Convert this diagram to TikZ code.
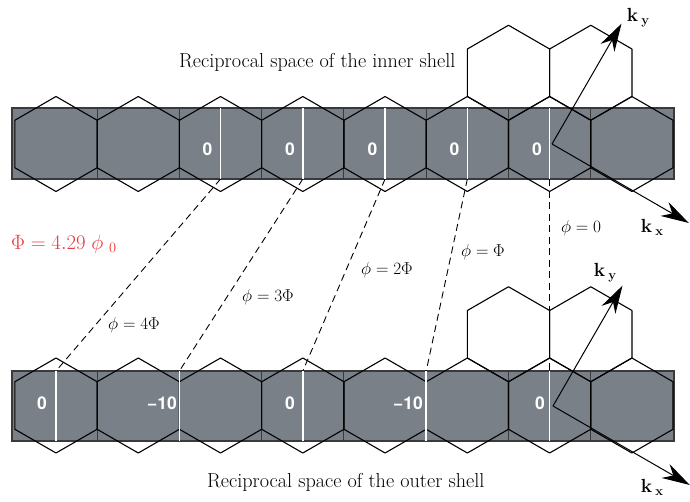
\documentclass[tikz,border=0pt]{standalone}
\usepackage{fontspec}
\newfontfamily\labfont{TeX Gyre Heros}
\usetikzlibrary{arrows.meta}
\definecolor{bandgray}{HTML}{7A8087}
\definecolor{bandedge}{HTML}{3A3A3A}
\definecolor{fluxred}{HTML}{E8383D}
\newcommand\myhex[2]{\draw[hexline] (#1,#2) ++(0,-47.5) -- ++(41.14,23.75) -- ++(0,47.5) -- ++(-41.14,23.75) -- ++(-41.14,-23.75) -- ++(0,-47.5) -- cycle;}
\begin{document}
\begin{tikzpicture}[x=1pt,y=-1pt,
  hexline/.style={draw=black,line width=1.1pt,line join=round},
  cellline/.style={draw=bandedge,line width=1pt},
  bandbox/.style={fill=bandgray,draw=bandedge,line width=1.4pt},
  whiteline/.style={draw=white,line width=1.6pt},
  phaseline/.style={draw=black,dash pattern=on 7pt off 4.5pt,line width=0.9pt},
  kvec/.style={draw=black,line width=1pt,-{Stealth[length=28pt,width=16pt,inset=9pt]}},
  zero/.style={text=white,font=\labfont\bfseries\fontsize{17.5}{19}\selectfont,inner sep=0pt},
  philab/.style={font=\fontsize{17}{19}\selectfont,inner sep=0pt},
  titlelab/.style={font=\fontsize{20.2}{22}\selectfont,inner sep=0pt},
  klab/.style={font=\fontsize{19}{20}\selectfont\bfseries,inner sep=0pt}]
\useasboundingbox (0,0) rectangle (690,501);
\fill[white] (0,0) rectangle (690,501);
% bands
\draw[bandbox] (12,108) rectangle (674,179);
\draw[bandbox] (12,371) rectangle (674,441);
\foreach \i in {1,...,7}{
  \pgfmathsetmacro\bx{14.86+82.27*\i}
  \draw[cellline] (\bx,108) -- (\bx,179);
  \draw[cellline] (\bx,371) -- (\bx,441);
}
% hexagons
\foreach \i in {0,...,7}{
  \pgfmathsetmacro\cx{56+82.27*\i}
  \myhex{\cx}{144}
  \myhex{\cx}{405.5}
}
\myhex{508.5}{72.75}
\myhex{590.8}{72.75}
\myhex{508.5}{334.25}
\myhex{590.8}{334.25}
% white lines, top band
\foreach \x [count=\k] in {220.54,302.81,385.08,467.35,549.62}{
  \coordinate (tt\k) at (\x,108);
  \coordinate (tb\k) at (\x,179);
  \draw[whiteline] (tt\k) -- (tb\k);
}
% white lines, lower band
\foreach \x [count=\k] in {56,179.4,302.81,426.2,549.62}{
  \coordinate (lt\k) at (\x,371);
  \coordinate (lb\k) at (\x,441);
  \draw[whiteline] (lt\k) -- (lb\k);
}
% zero labels
\node[zero] (z1) at (207.5,149) {0};
\node[zero] (z2) at (290,149) {0};
\node[zero] (z3) at (372.5,149) {0};
\node[zero] (z4) at (454.5,149) {0};
\node[zero] (z5) at (537,149) {0};
\node[zero] (w1) at (42,403) {0};
\node[zero] (w2) at (162,403) {−10};
\node[zero] (w3) at (290,403) {0};
\node[zero] (w4) at (408,403) {−10};
\node[zero] (w5) at (540,403) {0};
% phase lines
\draw[phaseline] (tb1) -- (lt1);
\draw[phaseline] (tb2) -- (lt2);
\draw[phaseline] (tb3) -- (lt3);
\draw[phaseline] (tb4) -- (lt4);
\draw[phaseline] (tb5) -- (lt5);
\node[philab] (p4) at (134,325) {$\phi = 4\Phi$};
\node[philab] (p3) at (268,297) {$\phi = 3\Phi$};
\node[philab] (p2) at (387,270) {$\phi = 2\Phi$};
\node[philab] (p1) at (483,252) {$\phi = \Phi$};
\node[philab] (p0) at (581,228) {$\phi = 0$};
\node[philab,text=fluxred,anchor=base west,font=\fontsize{19.5}{21}\selectfont] (flux) at (11,249) {$\Phi = 4.29\;\phi\;{}_{0}$};
% titles
\node[titlelab,anchor=base west] (tin) at (179,67) {Reciprocal space of the inner shell};
\node[titlelab,anchor=base west] (tout) at (207,487) {Reciprocal space of the outer shell};
% k vectors
\coordinate (o1) at (552,144);
\coordinate (ky1) at (621.5,23.6);
\coordinate (kx1) at (688.8,223);
\coordinate (o2) at (553,406);
\coordinate (ky2) at (622.5,285.6);
\coordinate (kx2) at (689.8,485);
\draw[kvec] (o1) -- (ky1);
\draw[kvec] (o1) -- (kx1);
\draw[kvec] (o2) -- (ky2);
\draw[kvec] (o2) -- (kx2);
\node[klab] (lky1) at (638,18) {k\,\raisebox{-3pt}{\fontsize{13}{13}\selectfont y}};
\node[klab] (lkx1) at (652,227) {k\,\raisebox{-3pt}{\fontsize{13}{13}\selectfont x}};
\node[klab] (lky2) at (605,273) {k\,\raisebox{-3pt}{\fontsize{13}{13}\selectfont y}};
\node[klab] (lkx2) at (652,487) {k\,\raisebox{-3pt}{\fontsize{13}{13}\selectfont x}};
\end{tikzpicture}
\end{document}
